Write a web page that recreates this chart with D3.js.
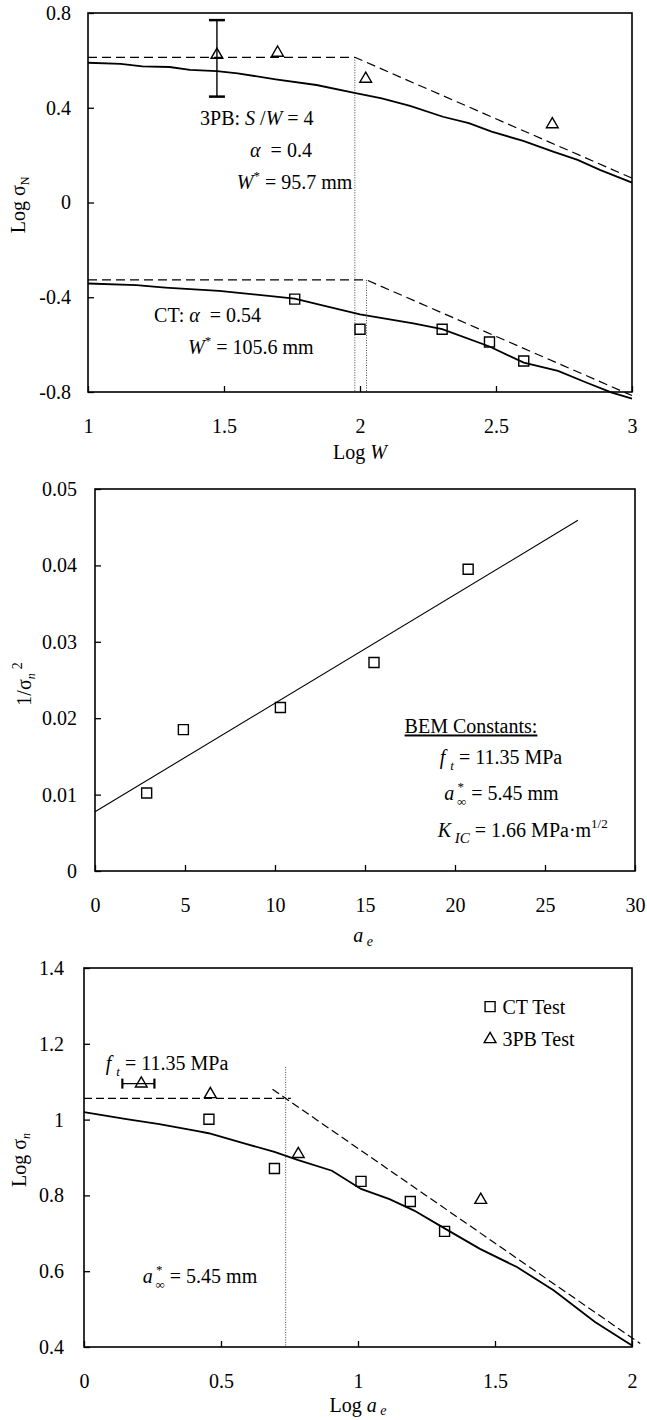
<!DOCTYPE html>
<html>
<head>
<meta charset="utf-8">
<script src="https://cdn.jsdelivr.net/npm/d3@7"></script>
<style>
  body { margin: 0; background: #fff; }
  text { font-family: "Liberation Serif", "Times New Roman", serif; font-size: 20px; fill: #000; white-space: pre; }
</style>
</head>
<body>
<script>
// ---- panel 1: size effect, Log sigma_N vs Log W
var sizeTicksX = [1, 1.5, 2, 2.5, 3];
var sizeTicksY = [-0.8, -0.4, 0, 0.4, 0.8];
var tpbCurve = [[1.0, 0.59], [1.12, 0.585], [1.2, 0.575], [1.3, 0.572], [1.375, 0.56], [1.474, 0.555],
  [1.55, 0.545], [1.69, 0.52], [1.84, 0.496], [1.975, 0.464], [2.08, 0.44], [2.184, 0.408], [2.305, 0.362],
  [2.4, 0.335], [2.484, 0.299], [2.6, 0.26], [2.71, 0.215], [2.8, 0.18], [2.882, 0.138], [3.0, 0.084]];
var ctCurve = [[1.0, -0.342], [1.178, -0.349], [1.284, -0.359], [1.482, -0.373], [1.76, -0.406],
  [1.862, -0.434], [2.0, -0.472], [2.196, -0.51], [2.302, -0.535], [2.476, -0.608], [2.602, -0.676],
  [2.728, -0.711], [2.834, -0.761], [2.926, -0.803], [3.0, -0.828]];
var tpbPoints = [[1.474, 0.623], [1.697, 0.632], [2.021, 0.522], [2.707, 0.330]];
var tpbErrBar = [1.474, 0.447, 0.77]; // x, low, high
var ctPoints = [[1.76, -0.408], [2.0, -0.535], [2.302, -0.535], [2.476, -0.589], [2.602, -0.669]];
var tpbAsym = [[1, 0.613], [1.981, 0.613], [3, 0.103]];
var ctAsym = [[1, -0.327], [2.024, -0.327], [3, -0.815]];
var tpbKink = [1.981, 0.613, -0.8];
var ctKink = [2.024, -0.327, -0.8];

// ---- panel 2: BEM fit, 1/sigma_n^2 vs a_e
var bemTicksX = [0, 5, 10, 15, 20, 25, 30];
var bemTicksY = [0, 0.01, 0.02, 0.03, 0.04, 0.05];
var bemPoints = [[2.87, 0.0102], [4.91, 0.0185], [10.3, 0.0214], [15.5, 0.0273], [20.73, 0.0395]];
var bemFit = [[0, 0.00775], [26.83, 0.0459]];

// ---- panel 3: Log sigma_n vs Log a_e
var aeTicksX = [0, 0.5, 1, 1.5, 2];
var aeTicksY = [0.4, 0.6, 0.8, 1, 1.2, 1.4];
var ctTest = [[0.456, 1.001], [0.695, 0.871], [1.011, 0.837], [1.191, 0.784], [1.316, 0.705]];
var tpbTest = [[0.209, 1.095], [0.461, 1.067], [0.782, 0.909], [1.448, 0.788]];
var tpbErrX = [1.095, 0.14, 0.257]; // y, low, high
var aeCurve = [[0, 1.02], [0.155, 1.001], [0.275, 0.988], [0.41, 0.970], [0.455, 0.964], [0.575, 0.939],
  [0.695, 0.915], [0.782, 0.893], [0.905, 0.865], [1.011, 0.817], [1.115, 0.79], [1.205, 0.76],
  [1.316, 0.713], [1.445, 0.659], [1.58, 0.611], [1.715, 0.549], [1.865, 0.466], [2.0, 0.404]];
var aePlateau = [[0, 1.056], [0.755, 1.056]];
var aeLefm = [[0.688, 1.080], [2.03, 0.409]];
var aeKink = [0.736, 1.139, 0.4];

var svg = d3.select("body").append("svg").attr("width", 647).attr("height", 1420);

// rich text helper: parts {t, i(talic), sub, sup, fs, dx, shift}
function rich(g, x, y, parts, anchor) {
  var t = g.append("text").attr("x", x).attr("y", y).attr("text-anchor", anchor || "start");
  var shift = 0;
  parts.forEach(function(p) {
    var s = t.append("tspan").text(p.t);
    var target = p.sub ? (p.shift || 6) : p.sup ? -9 : 0;
    if (target !== shift) { s.attr("dy", target - shift); shift = target; }
    if (p.sub || p.sup) s.style("font-size", (p.fs || 13) + "px");
    if (p.i) s.style("font-style", "italic");
    if (p.dx) s.attr("dx", p.dx);
  });
  return t;
}

function panel(box, xDom, yDom, xTicks, yTicks) {
  var x = d3.scaleLinear().domain(xDom).range([box.l, box.r]);
  var y = d3.scaleLinear().domain(yDom).range([box.b, box.t]);
  var g = svg.append("g");

  var ax = g.append("g")
      .attr("transform", "translate(0," + box.b + ")")
      .call(d3.axisBottom(x).tickValues(xTicks).tickFormat(String)
        .tickSizeInner(-6).tickSizeOuter(0).tickPadding(27));
  var ay = g.append("g")
      .attr("transform", "translate(" + box.l + ",0)")
      .call(d3.axisLeft(y).tickValues(yTicks).tickFormat(String)
        .tickSizeInner(-6).tickSizeOuter(0).tickPadding(box.pad));
  [ax, ay].forEach(function(a) {
    a.attr("font-size", null).attr("font-family", null);
    a.select(".domain").remove();
    a.selectAll(".tick line").attr("stroke", "#000").attr("stroke-width", 1.3);
  });

  g.append("rect")
      .attr("x", box.l).attr("y", box.t)
      .attr("width", box.r - box.l).attr("height", box.b - box.t)
      .attr("fill", "none").attr("stroke", "#000").attr("stroke-width", 1.6);

  var line = d3.line().x(function(d) { return x(d[0]); }).y(function(d) { return y(d[1]); });
  return {g: g, x: x, y: y, line: line};
}

function drawPath(p, data, w, dash, col) {
  p.g.append("path").datum(data)
      .attr("d", p.line)
      .attr("fill", "none")
      .attr("stroke", col || "#000")
      .attr("stroke-width", w)
      .attr("stroke-dasharray", dash || null);
}

function drawMarkers(p, data, type, size) {
  p.g.selectAll(null).data(data).enter().append("path")
      .attr("d", d3.symbol().type(type).size(size))
      .attr("transform", function(d) { return "translate(" + p.x(d[0]) + "," + p.y(d[1]) + ")"; })
      .attr("fill", "none")
      .attr("stroke", "#000")
      .attr("stroke-width", 1.4);
}

function vDotted(p, k) {
  p.g.append("line")
      .attr("x1", p.x(k[0])).attr("x2", p.x(k[0]))
      .attr("y1", p.y(k[1])).attr("y2", p.y(k[2]))
      .attr("stroke", "#444").attr("stroke-width", 1).attr("stroke-dasharray", "1,1.5");
}

// ================= panel 1
var p1 = panel({l: 88, r: 632, t: 13, b: 392, pad: 17}, [1, 3], [-0.8, 0.8], sizeTicksX, sizeTicksY);
vDotted(p1, tpbKink);
vDotted(p1, ctKink);
drawPath(p1, tpbAsym, 1.2, "9,5");
drawPath(p1, ctAsym, 1.2, "9,5");
drawPath(p1, tpbCurve, 1.8);
drawPath(p1, ctCurve, 1.8);

// error bar
var ex = p1.x(tpbErrBar[0]);
p1.g.append("line").attr("x1", ex).attr("x2", ex)
    .attr("y1", p1.y(tpbErrBar[1])).attr("y2", p1.y(tpbErrBar[2]))
    .attr("stroke", "#000").attr("stroke-width", 1.4);
[tpbErrBar[1], tpbErrBar[2]].forEach(function(v) {
  p1.g.append("line").attr("x1", ex - 8).attr("x2", ex + 8)
      .attr("y1", p1.y(v)).attr("y2", p1.y(v))
      .attr("stroke", "#000").attr("stroke-width", 2.5);
});
drawMarkers(p1, tpbPoints, d3.symbolTriangle, 60);
drawMarkers(p1, ctPoints, d3.symbolSquare, 100);

rich(p1.g, p1.x(1.412), p1.y(0.327), [{t: "3PB: "}, {t: "S", i: true}, {t: " /"}, {t: "W", i: true}, {t: " = 4"}]);
rich(p1.g, p1.x(1.596), p1.y(0.194), [{t: "α", i: true}, {t: "  = 0.4"}]);
rich(p1.g, p1.x(1.547), p1.y(0.055), [{t: "W", i: true}, {t: "*", sup: true}, {t: " = 95.7 mm"}]);
rich(p1.g, p1.x(1.243), p1.y(-0.506), [{t: "CT: "}, {t: "α", i: true}, {t: "  = 0.54"}]);
rich(p1.g, p1.x(1.368), p1.y(-0.641), [{t: "W", i: true}, {t: "*", sup: true}, {t: " = 105.6 mm"}]);

rich(p1.g, 360, 459, [{t: "Log "}, {t: "W", i: true}], "middle");
rich(p1.g, 0, 0, [{t: "Log σ"}, {t: "N", sub: true, fs: 12, shift: 4}], "middle")
    .attr("transform", "translate(25,205) rotate(-90)");

// ================= panel 2
var p2 = panel({l: 95, r: 635, t: 489, b: 871, pad: 18}, [0, 30], [0, 0.05], bemTicksX, bemTicksY);
drawPath(p2, bemFit, 1.1);
drawMarkers(p2, bemPoints, d3.symbolSquare, 100);

rich(p2.g, p2.x(17.2), p2.y(0.018), [{t: "BEM Constants:"}]).style("text-decoration", "underline");
rich(p2.g, p2.x(19.15), p2.y(0.014), [{t: "f ", i: true}, {t: "t", i: true, sub: true}, {t: " = 11.35 MPa"}]);
rich(p2.g, p2.x(19.4), p2.y(0.00928), [{t: "a", i: true}, {t: " *", sup: true}, {t: "∞", sub: true, dx: -7}, {t: " = 5.45 mm"}]);
rich(p2.g, p2.x(19.04), p2.y(0.0044), [{t: "K", i: true}, {t: " IC", i: true, sub: true, fs: 15}, {t: " = 1.66 MPa·m"}, {t: "1/2", sup: true}]);

rich(p2.g, 363, 942, [{t: "a", i: true}, {t: " e", i: true, sub: true, fs: 14, shift: 4}], "middle");
rich(p2.g, 0, 0, [{t: "1/σ"}, {t: "n", i: true, sub: true, fs: 12, shift: 4}, {t: "2", sup: true, fs: 14, dx: 4}], "middle")
    .attr("transform", "translate(31,684) rotate(-90)");

// ================= panel 3
var p3 = panel({l: 84, r: 632, t: 968, b: 1347, pad: 20}, [0, 2], [0.4, 1.4], aeTicksX, aeTicksY);
vDotted(p3, aeKink);
drawPath(p3, aePlateau, 1.2, "8,4");
drawPath(p3, aeLefm, 1.2, "8,4");
drawPath(p3, aeCurve, 1.8);

var ey = p3.y(tpbErrX[0]);
p3.g.append("line").attr("x1", p3.x(tpbErrX[1])).attr("x2", p3.x(tpbErrX[2]))
    .attr("y1", ey).attr("y2", ey).attr("stroke", "#000").attr("stroke-width", 1.4);
[tpbErrX[1], tpbErrX[2]].forEach(function(v) {
  p3.g.append("line").attr("x1", p3.x(v)).attr("x2", p3.x(v))
      .attr("y1", ey - 5).attr("y2", ey + 5)
      .attr("stroke", "#000").attr("stroke-width", 2.2);
});
drawMarkers(p3, ctTest, d3.symbolSquare, 100);
drawMarkers(p3, tpbTest, d3.symbolTriangle, 60);

// legend
drawMarkers(p3, [[1.482, 1.298]], d3.symbolSquare, 100);
drawMarkers(p3, [[1.482, 1.212]], d3.symbolTriangle, 60);
rich(p3.g, p3.x(1.527), p3.y(1.298), [{t: "CT Test"}]).attr("dy", "0.35em");
rich(p3.g, p3.x(1.527), p3.y(1.212), [{t: "3PB Test"}]).attr("dy", "0.35em");

rich(p3.g, p3.x(0.0795), p3.y(1.131), [{t: "f ", i: true}, {t: "t", i: true, sub: true}, {t: " = 11.35 MPa"}]);
rich(p3.g, p3.x(0.2146), p3.y(0.57), [{t: "a", i: true}, {t: " *", sup: true}, {t: "∞", sub: true, dx: -7}, {t: " = 5.45 mm"}]);

rich(p3.g, 358, 1412, [{t: "Log "}, {t: "a", i: true}, {t: " e", i: true, sub: true, fs: 14, shift: 3}], "middle");
rich(p3.g, 0, 0, [{t: "Log σ"}, {t: "n", i: true, sub: true, fs: 12, shift: 4}], "middle")
    .attr("transform", "translate(26,1160) rotate(-90)");
</script>
</body>
</html>
